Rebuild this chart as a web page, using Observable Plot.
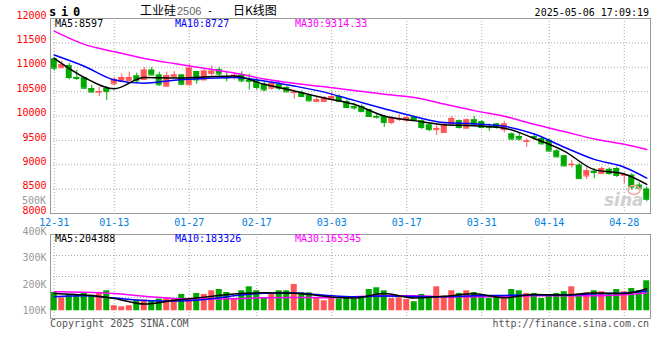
<!DOCTYPE html>
<html><head><meta charset="utf-8">
<script src="https://cdn.jsdelivr.net/npm/d3@7"></script>
<script src="https://cdn.jsdelivr.net/npm/@observablehq/plot@0.6"></script>
<style>
body{margin:0;background:#fff;}
#c{position:relative;width:660px;height:360px;overflow:hidden;background:#fff;}
#c svg{position:absolute;left:0;}
</style></head><body><div id="c"></div>
<script>
// ---- data ----
const dates = ["12-31","01-02","01-03","01-06","01-07","01-08","01-09","01-10","01-13","01-14","01-15","01-16","01-17","01-20","01-21","01-22","01-23","01-24","01-27","02-05","02-06","02-07","02-10","02-11","02-12","02-13","02-14","02-17","02-18","02-19","02-20","02-21","02-24","02-25","02-26","02-27","02-28","03-03","03-04","03-05","03-06","03-07","03-10","03-11","03-12","03-13","03-14","03-17","03-18","03-19","03-20","03-21","03-24","03-25","03-26","03-27","03-28","03-31","04-01","04-02","04-03","04-07","04-08","04-09","04-10","04-11","04-14","04-15","04-16","04-17","04-18","04-21","04-22","04-23","04-24","04-25","04-28","04-29","04-30","05-06"];
const opens  = [11170,10990,11030,10790,10780,10560,10490,10560,10660,10710,10730,10820,10750,10940,10840,10610,10800,10840,10640,10910,10740,10870,10950,10810,10820,10835,10735,10720,10650,10570,10640,10585,10480,10480,10415,10300,10300,10345,10400,10295,10190,10195,10125,9990,9985,9865,9935,9915,9975,9900,9815,9720,9660,9835,9900,9750,9920,9880,9780,9835,9720,9630,9580,9480,9580,9535,9500,9280,9180,9000,8990,8770,8865,8820,8905,8920,8785,8785,8580,8500];
const highs  = [11200,11120,11080,10940,10790,10630,10590,10600,10790,10860,10900,10880,11000,11000,10900,10900,10910,10850,11060,10920,10960,11030,10990,10890,10880,10910,10860,10770,10685,10705,10680,10605,10530,10515,10435,10390,10400,10490,10435,10330,10255,10230,10140,10050,10005,9985,10025,10005,9995,9920,9860,9800,9860,9990,9920,9940,9990,9900,9835,9845,9890,9650,9655,9530,9635,9560,9535,9310,9200,9090,9030,8940,8920,8950,8935,8950,8830,8815,8630,8545];
const lows   = [10920,10980,10740,10730,10540,10480,10400,10320,10620,10700,10710,10660,10740,10830,10610,10600,10790,10620,10620,10650,10730,10820,10760,10700,10735,10685,10530,10530,10495,10530,10520,10485,10345,10380,10290,10275,10290,10290,10275,10160,10120,10070,9970,9935,9765,9820,9890,9865,9890,9720,9680,9595,9640,9820,9730,9745,9800,9740,9685,9730,9650,9505,9490,9355,9500,9400,9260,9150,8960,8935,8700,8695,8715,8815,8785,8740,8615,8475,8490,8240];
const closes = [10980,11050,10790,10770,10570,10490,10500,10500,10750,10790,10790,10720,10940,10840,10640,10830,10840,10650,10980,10740,10920,10920,10860,10780,10835,10720,10710,10585,10535,10665,10570,10495,10490,10400,10310,10330,10380,10400,10300,10175,10165,10090,9990,9975,9865,9955,9950,9965,9905,9765,9720,9745,9830,9950,9765,9920,9815,9765,9765,9765,9835,9525,9525,9490,9555,9430,9280,9160,8975,9010,8715,8875,8840,8920,8820,8780,8800,8540,8520,8290];
const volumes = [170000,121000,146000,146000,170000,146000,161000,186000,47000,37000,47000,100000,100000,90000,109000,121000,114000,152000,109000,161000,152000,186000,198000,170000,105000,186000,223000,186000,121000,152000,186000,186000,245000,167000,167000,124000,93000,121000,109000,121000,109000,130000,198000,214000,186000,114000,121000,105000,84000,152000,121000,223000,137000,186000,161000,186000,170000,121000,114000,130000,137000,198000,186000,161000,161000,114000,146000,161000,177000,223000,155000,167000,186000,177000,161000,198000,177000,207000,186000,279000];

// moving-average lines, read every 4th session
const maDates = ["12-31","01-07","01-13","01-17","01-23","02-06","02-12","02-18","02-24","02-28","03-06","03-12","03-18","03-24","03-28","04-03","04-10","04-16","04-22","04-28","05-06"];
const ma5  = [11180,10790,10560,10790,10780,10800,10820,10650,10515,10370,10240,10000,9905,9820,9800,9750,9540,9280,8900,8810,8597];
const ma10 = [11250,11020,10740,10673,10735,10770,10790,10720,10615,10490,10320,10150,9990,9865,9840,9790,9630,9360,9110,8950,8727];
const ma30 = [11740,11470,11320,11180,11075,10980,10880,10760,10670,10600,10525,10445,10380,10245,10110,9995,9830,9680,9530,9420,9314.33];
const vma5  = [161000,146000,115000,63000,97000,127000,157000,167000,164000,135000,118000,161000,119000,135000,158000,121000,152000,146000,165000,161000,204388];
const vma10 = [130000,140000,118000,96000,90000,105000,140000,163000,165000,145000,130000,137000,133000,130000,140000,143000,146000,146000,158000,165000,183326];
const vma30 = [177000,172000,160000,135000,115000,109000,112000,121000,124000,121000,130000,140000,140000,130000,130000,135000,140000,140000,140000,150000,165345];

const xTicks = ["12-31","01-13","01-27","02-17","03-03","03-17","03-31","04-14","04-28"];
const priceTicks = [8000,8500,9000,9500,10000,10500,11000,11500,12000];
const priceGrid = [8500,9000,9500,10000,10500,11000,11500];
const volTicks = [100000,200000,300000,400000];

// ---- build tables ----
const candles = dates.map((d,i)=>({date:d, open:opens[i], high:highs[i], low:lows[i], close:closes[i], vol:volumes[i]}));
const ma = maDates.map((d,i)=>({date:d, ma5:ma5[i], ma10:ma10[i], ma30:ma30[i], v5:vma5[i], v10:vma10[i], v30:vma30[i]}));
const UP="#ff5555", DN="#00a800";
const col = d => d.close >= d.open ? UP : DN;
const MONO = "DejaVu Sans Mono";
const gridStyle = {stroke:"#aaa", strokeOpacity:1, strokeDasharray:"1,2"};
const xOpts = {type:"band", domain:dates, paddingInner:0.2, paddingOuter:0.1, axis:null, label:null};
const baseStyle = {fontFamily:MONO, fontSize:"10px", background:"transparent", overflow:"visible"};

const root = document.getElementById("c");

// main price panel
const main = Plot.plot({
  width:660, height:232, marginLeft:50, marginRight:10, marginTop:18, marginBottom:19,
  style:baseStyle,
  x:xOpts,
  y:{domain:[8000,12000], axis:null, label:null},
  marks:[
    Plot.gridY(priceGrid, gridStyle),
    Plot.gridX(xTicks, gridStyle),
    Plot.ruleX(candles, {x:"date", y1:"low", y2:"high", stroke:col, strokeWidth:1}),
    Plot.barY(candles, {x:"date", y1:"open", y2:"close", fill:col}),
    Plot.tickY(candles, {x:"date", y:"open", stroke:col, strokeWidth:1}),
    Plot.tickY(candles, {x:"date", y:"close", stroke:col, strokeWidth:1}),
    Plot.line(ma, {x:"date", y:"ma30", stroke:"#ff00ff", strokeWidth:1.5, curve:"monotone-x"}),
    Plot.line(ma, {x:"date", y:"ma10", stroke:"#0000ff", strokeWidth:1.5, curve:"monotone-x"}),
    Plot.line(ma, {x:"date", y:"ma5", stroke:"#000000", strokeWidth:1.5, curve:"monotone-x"}),
    Plot.frame({stroke:"#999"}),
    Plot.axisY(priceTicks, {anchor:"left", label:null, tickSize:0, tickPadding:4, fill:"#ff0000", dy:-3, tickFormat:d=>String(d)}),
    Plot.axisX(xTicks, {anchor:"bottom", label:null, tickSize:0, tickPadding:5, fill:"#0080e0"})
  ]
});
main.style.top = "0px";
root.appendChild(main);

// volume panel
const volDomain = [-72000, 710000];
const volGrid = [1,2,3].map(k => volDomain[0] + (volDomain[1]-volDomain[0])*k/4);
const vol = Plot.plot({
  width:660, height:96, marginLeft:50, marginRight:10, marginTop:8, marginBottom:4,
  style:baseStyle,
  x:xOpts,
  y:{domain:volDomain, axis:null, label:null},
  marks:[
    Plot.gridY(volGrid, gridStyle),
    Plot.gridX(xTicks, gridStyle),
    Plot.barY(candles, {x:"date", y:"vol", fill:col}),
    Plot.line(ma, {x:"date", y:"v30", stroke:"#ff00ff", strokeWidth:1.5, curve:"monotone-x"}),
    Plot.line(ma, {x:"date", y:"v10", stroke:"#0000ff", strokeWidth:1.5, curve:"monotone-x"}),
    Plot.line(ma, {x:"date", y:"v5", stroke:"#000000", strokeWidth:1.5, curve:"monotone-x"}),
    Plot.frame({stroke:"#999"})
  ]
});
vol.style.top = "226px";
root.appendChild(vol);

// volume axis labels
const vaxis = Plot.plot({
  width:60, height:96, marginLeft:50, marginRight:10, marginTop:5, marginBottom:11.5,
  style:baseStyle,
  x:{domain:[0,1], axis:null, label:null},
  y:{domain:[100000,400000], axis:null, label:null},
  marks:[
    Plot.axisY(volTicks, {anchor:"left", label:null, tickSize:0, tickPadding:4, fill:"#999", tickFormat:d=>(d/1000)+"K"})
  ]
});
vaxis.style.top = "226px";
root.appendChild(vaxis);

// header, legends, footer text
const svg = d3.select(root).append("svg").attr("width",660).attr("height",360).style("top","0px").style("pointer-events","none");
function txt(x,y,s,o={}){
  const t = svg.append("text").attr("x",x).attr("y",y).text(s)
    .attr("font-family", o.ff || MONO).attr("font-size", o.fs || 10).attr("fill", o.fill || "#000");
  if (o.anchor) t.attr("text-anchor", o.anchor);
  if (o.fw) t.attr("font-weight", o.fw);
  if (o.ls) t.attr("letter-spacing", o.ls);
  if (o.style) t.attr("font-style", o.style);
  if (o.op) t.attr("opacity", o.op);
  return t;
}
txt(49,16,"s i 0",{fs:12,fw:"bold",ls:-1.2});
txt(140,15,"工业硅",{ff:"Noto Sans CJK SC",fs:12});
txt(177,15,"2506",{ff:"Liberation Sans",fs:11,fill:"#666"});
txt(207,14,"-",{fs:10});
txt(233,15,"日K线图",{ff:"Noto Sans CJK SC",fs:12});
txt(649,16,"2025-05-06 17:09:19",{anchor:"end"});
txt(55,27,"MA5:8597",{fill:"#000"});
txt(175,27,"MA10:8727",{fill:"#0000ff"});
txt(295,27,"MA30:9314.33",{fill:"#ff00ff"});
txt(46,204,"500K",{anchor:"end",fill:"#999"});
txt(55,242,"MA5:204388",{fill:"#000"});
txt(175,242,"MA10:183326",{fill:"#0000ff"});
txt(295,242,"MA30:165345",{fill:"#ff00ff"});
txt(50,327,"Copyright 2025 SINA.COM",{fill:"#555"});
txt(649,327,"http://finance.sina.com.cn",{anchor:"end",fill:"#555"});
svg.append("ellipse").attr("cx",634).attr("cy",190).attr("rx",6).attr("ry",4.5).attr("fill","none").attr("stroke","#f2a0a0").attr("stroke-width",1.5);
txt(604,206,"sina",{ff:"DejaVu Sans",fs:17,fw:"bold",style:"italic",fill:"#c8c8c8",op:0.85});
</script></body></html>
